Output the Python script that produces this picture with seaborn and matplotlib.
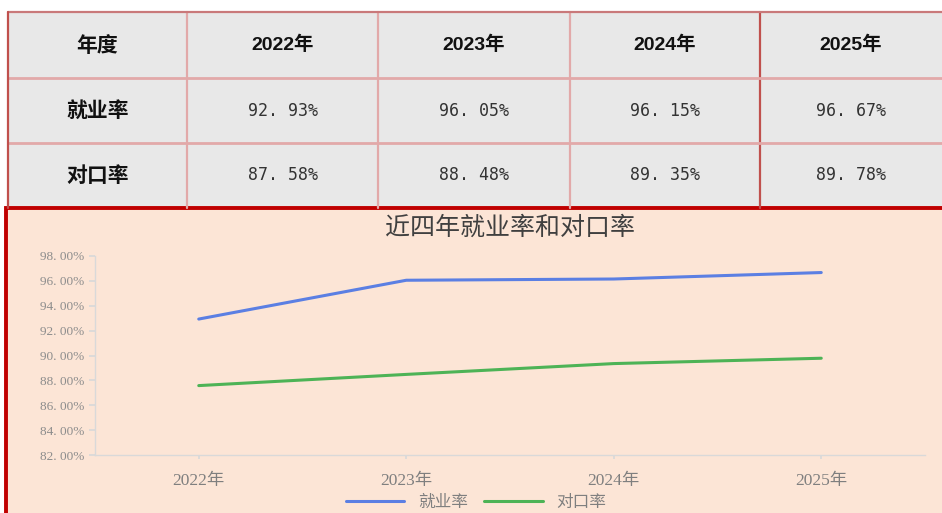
import pandas as pd
import seaborn as sns
import matplotlib.pyplot as plt
from matplotlib.patches import Rectangle

years = ['2022年', '2023年', '2024年', '2025年']
employment = [92.93, 96.05, 96.15, 96.67]
matching = [87.58, 88.48, 89.35, 89.78]
row_labels = ['年度', '就业率', '对口率']
series_names = ['就业率', '对口率']
y_ticks = [82, 84, 86, 88, 90, 92, 94, 96, 98]

sns.set_theme(style='white')
plt.rcParams['font.family'] = ['Noto Sans CJK SC', 'DejaVu Sans']

W, H = 942, 513
fig = plt.figure(figsize=(W / 100, H / 100), dpi=100)
fig.patch.set_facecolor('white')

# background layer in pixel coordinates: table + chart panel
bg = fig.add_axes([0, 0, 1, 1])
bg.set_xlim(0, W)
bg.set_ylim(H, 0)
bg.axis('off')

col_edges = [8, 187, 378, 570, 760, 950]
row_edges = [12, 78, 143, 208]
bg.add_patch(Rectangle((col_edges[0], row_edges[0]), col_edges[-1] - col_edges[0],
                       row_edges[-1] - row_edges[0], facecolor='#E8E8E8', edgecolor='none'))
for x in col_edges[1:-1]:
    c = '#C0504D' if x == 760 else '#E2A9A9'
    bg.plot([x, x], [row_edges[0], row_edges[-1]], color=c, lw=1.6)
for y in row_edges[1:-1]:
    bg.plot([col_edges[0], W], [y, y], color='#E2A9A9', lw=2)
bg.plot([col_edges[0], W], [row_edges[0], row_edges[0]], color='#C9797A', lw=1.6)
bg.plot([col_edges[0], col_edges[0]], [row_edges[0], row_edges[-1]], color='#C0504D', lw=1.6)

table_rows = [
    years,
    ['{:.2f}%'.format(v).replace('.', '. ') for v in employment],
    ['{:.2f}%'.format(v).replace('.', '. ') for v in matching],
]
for r in range(3):
    yc = (row_edges[r] + row_edges[r + 1]) / 2
    bg.text((col_edges[0] + col_edges[1]) / 2, yc, row_labels[r], ha='center', va='center',
            fontsize=15, fontweight='bold', color='#111111')
    for c in range(4):
        xc = (col_edges[c + 1] + min(col_edges[c + 2], W)) / 2
        if r == 0:
            bg.text(xc, yc, table_rows[r][c], ha='center', va='center', fontsize=14,
                    fontweight='bold', color='#111111',
                    family=['Liberation Sans Narrow', 'Liberation Sans', 'Noto Sans CJK SC'])
        else:
            bg.text(xc, yc, table_rows[r][c], ha='center', va='center', fontsize=12,
                    color='#333333', family=['DejaVu Sans Mono'])

# chart panel
bg.add_patch(Rectangle((6, 208), W, 320, facecolor='#FCE5D6', edgecolor='#C00000', lw=2.8))

# line chart
ax = fig.add_axes([95 / W, 1 - 455 / H, 830 / W, 199 / H])
ax.set_facecolor('none')
df = pd.DataFrame({
    '年份': years * 2,
    '比率': employment + matching,
    '类别': [series_names[0]] * 4 + [series_names[1]] * 4,
})
sns.lineplot(data=df, x='年份', y='比率', hue='类别', ax=ax, sort=False,
             palette=['#5B7FE3', '#4DB356'], lw=2.2)
ax.set_xlim(-0.5, 3.5)
ax.set_ylim(82, 98)
ax.set_yticks(y_ticks)
ax.set_yticklabels(['{:.2f}%'.format(v).replace('.', '. ') for v in y_ticks],
                   family=['Liberation Serif'], fontsize=9.5, color='#8C8C8C')
ax.set_xticks(range(4))
ax.set_xticklabels(years, family=['Liberation Serif', 'Noto Sans CJK SC'],
                   fontsize=12.5, color='#7F7F7F')
ax.tick_params(axis='x', length=3, color='#D9D9D9', pad=10, bottom=True)
ax.tick_params(axis='y', length=4, color='#D9D9D9', pad=4, left=True)
for s in ['top', 'right']:
    ax.spines[s].set_visible(False)
for s in ['left', 'bottom']:
    ax.spines[s].set_color('#D9D9D9')
    ax.spines[s].set_linewidth(1)
ax.set_xlabel('')
ax.set_ylabel('')
ax.set_title('近四年就业率和对口率', fontsize=18, color='#404040', pad=15,
             fontweight='medium', family=['Noto Sans CJK SC'])
ax.legend(loc='center', bbox_to_anchor=(476 / W, 1 - 502 / H), bbox_transform=fig.transFigure,
          ncol=2, frameon=False, fontsize=12, handlelength=3.5, columnspacing=1.0,
          labelcolor='#7F7F7F', borderpad=0.1)

fig.savefig('out.png', dpi=100)
